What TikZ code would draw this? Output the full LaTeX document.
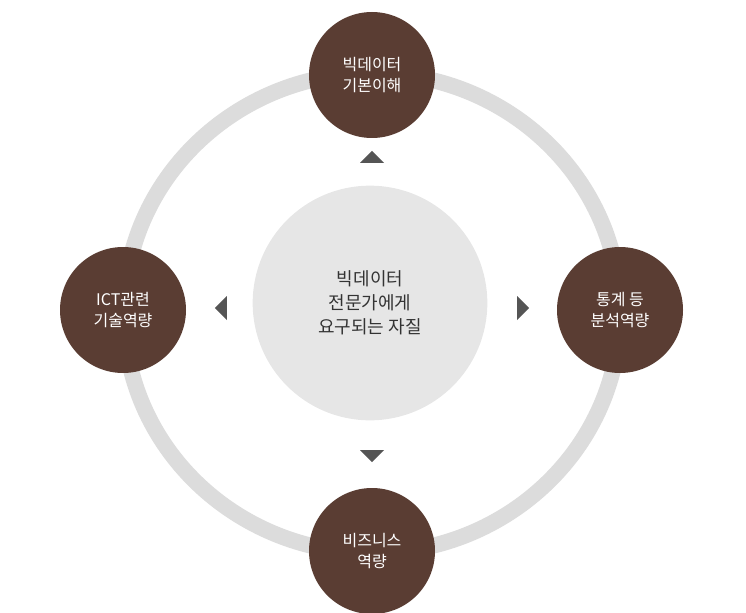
\documentclass[tikz,border=0pt]{standalone}
\usepackage{fontspec}
\setmainfont{Noto Sans CJK KR}
\usetikzlibrary{shapes.geometric}
\definecolor{ringgray}{HTML}{DCDCDC}
\definecolor{centergray}{HTML}{E6E6E6}
\definecolor{brownfill}{HTML}{5A3D33}
\definecolor{arrowgray}{HTML}{555555}
\newcommand\px{pt*0.75}
\tikzset{
  topic/.style={circle,fill=brownfill,minimum size=126\px,text=white,align=center,font=\fontsize{12}{16}\selectfont,inner sep=0pt},
  pointer/.style={isosceles triangle,isosceles triangle apex angle=90,fill=arrowgray,minimum width=24\px,minimum height=10\px,inner sep=0pt}
}
\begin{document}
\begin{tikzpicture}[x=0.75pt,y=-0.75pt]
  \useasboundingbox (0,0) rectangle (746,613);
  \draw[ringgray,line width=12] (372,313) ellipse (248 and 240);
  \node[circle,fill=centergray,minimum size=176,inner sep=0pt,align=center,font=\fontsize{13.5}{18}\selectfont,text=black!80] (center) at (370,303) {빅데이터\\전문가에게\\요구되는 자질};
  \node[topic] (top) at (372,75) {빅데이터\\기본이해};
  \node[topic] (right) at (620,310) {통계 등\\분석역량};
  \node[topic] (bottom) at (372,551) {비즈니스\\역량};
  \node[topic] (left) at (123,310) {ICT관련\\기술역량};
  \node[pointer,rotate=90] (uparrow) at (372,158) {};
  \node[pointer,rotate=-90] (downarrow) at (372,455) {};
  \node[pointer,rotate=180] (leftarrow) at (222,308) {};
  \node[pointer] (rightarrow) at (522,308) {};
\end{tikzpicture}
\end{document}
